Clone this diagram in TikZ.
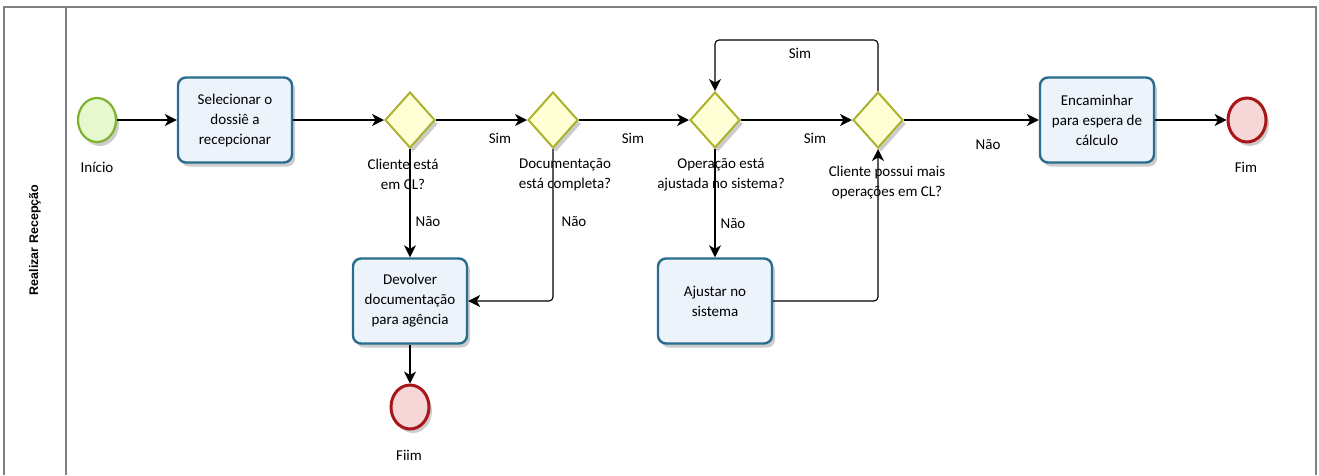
\documentclass[tikz,border=0pt]{standalone}
\usepackage{fontspec}
\setmainfont{Carlito}
\newfontfamily\lanefont{Liberation Sans}
\usetikzlibrary{shapes.geometric}
\usetikzlibrary{arrows.meta}
\usetikzlibrary{shadows}
\definecolor{taskline}{RGB}{40,108,142}
\definecolor{taskfill}{RGB}{236,243,251}
\definecolor{gateline}{RGB}{172,178,44}
\definecolor{gatefill}{RGB}{255,255,214}
\definecolor{startline}{RGB}{124,178,46}
\definecolor{startfill}{RGB}{232,248,206}
\definecolor{endline}{RGB}{168,22,26}
\definecolor{endfill}{RGB}{246,214,214}
\definecolor{laneline}{RGB}{128,128,128}
\tikzset{
  shadowed/.style={drop shadow={shadow xshift=3pt, shadow yshift=-4pt, opacity=0.2, fill=black}},
  task/.style={shadowed, draw=taskline, line width=2.4pt, rounded corners=8pt, fill=taskfill, minimum width=114pt, minimum height=85pt, align=center, inner sep=0pt, font=\fontsize{15}{20}\selectfont},
  gate/.style={shadowed, diamond, draw=gateline, line width=2pt, fill=gatefill, minimum width=50pt, minimum height=56pt, inner sep=0pt},
  startev/.style={shadowed, ellipse, draw=startline, line width=2.2pt, fill=startfill, minimum width=38pt, minimum height=44pt, inner sep=0pt},
  endev/.style={shadowed, ellipse, draw=endline, line width=3pt, fill=endfill, minimum width=38pt, minimum height=44pt, inner sep=0pt},
  lbl/.style={align=center, inner sep=0pt, font=\fontsize{15}{20}\selectfont},
  flow/.style={line width=1.1pt, rounded corners=4pt, -{Stealth[length=12pt, width=12pt, inset=3.5pt]}},
  lane/.style={draw=laneline, line width=2pt}
}
\newcommand{\bpmntask}[4]{\node[task] (#1) at ( #2 , #3 ) {#4};}
\newcommand{\bpmngate}[6]{\node[gate] (#1) at ( #2 , #3 ) {}; \node[lbl] (#1txt) at ( #4 , #5 ) {#6};}
\newcommand{\startevent}[6]{\node[startev] (#1) at ( #2 , #3 ) {}; \node[lbl] (#1txt) at ( #4 , #5 ) {#6};}
\newcommand{\stopevent}[6]{\node[endev] (#1) at ( #2 , #3 ) {}; \node[lbl] (#1txt) at ( #4 , #5 ) {#6};}
\begin{document}
\begin{tikzpicture}[x=1pt, y=-1pt]
        \useasboundingbox (0,0) rectangle (1319,475);
        % lane
        \draw[lane] (4,475) -- (4,7) -- (1316,7) -- (1316,475);
        \draw[lane] (66,7) -- (66,475);
        \node[rotate=90, font=\lanefont\bfseries\fontsize{12.5}{15}\selectfont] (lanename) at (35,240) {Realizar Recepção};
        % row1
        \startevent{inicio}{97}{120}{97}{167}{Início}
        \bpmntask{selec}{235}{120}{Selecionar o\\dossiê a\\recepcionar}
        \bpmngate{gclcl}{410}{120}{403}{174}{Cliente está\\em CL?}
        \bpmngate{gdoc}{553}{120}{565}{175}{Documentação\\está completa?}
        \bpmngate{gajust}{715}{120}{721}{175}{Operação está\\ajustada no sistema?}
        \bpmngate{gmais}{878}{120}{887}{183}{Cliente possui mais\\operações em CL?}
        \bpmntask{encam}{1097}{120}{Encaminhar\\para espera de\\cálculo}
        \stopevent{fim}{1247}{120}{1246}{167}{Fim}
        % row2
        \bpmntask{devol}{410}{301}{Devolver\\documentação\\para agência}
        \bpmntask{ajust}{715}{301}{Ajustar no\\sistema}
        \stopevent{fiim}{410}{407}{409}{455}{Fiim}
        % flows
        \draw[flow] (inicio) -- (selec);
        \draw[flow] (selec) -- (gclcl);
        \draw[flow] (gclcl) -- (gdoc);
        \draw[flow] (gdoc) -- (gajust);
        \draw[flow] (gajust) -- (gmais);
        \draw[flow] (gmais) -- (encam);
        \draw[flow] (encam) -- (fim);
        \draw[flow] (gclcl) -- (devol);
        \draw[flow] (gdoc.south) |- (devol.east);
        \draw[flow] (gajust) -- (ajust);
        \draw[flow] (ajust.east) -| (gmais.south);
        \draw[flow] (devol) -- (fiim);
        \coordinate (volta) at (878,40);
        \draw[flow] (gmais.north) -- (volta) -| (gajust.north);
        % flow labels
        \node[lbl] (sim1) at (500,138) {Sim};
        \node[lbl] (sim2) at (633,138) {Sim};
        \node[lbl] (sim3) at (815,138) {Sim};
        \node[lbl] (sim4) at (800,53) {Sim};
        \node[lbl] (nao1) at (428,222) {Não};
        \node[lbl] (nao2) at (574,222) {Não};
        \node[lbl] (nao3) at (733,224) {Não};
        \node[lbl] (nao4) at (988,145) {Não};
\end{tikzpicture}
\end{document}
